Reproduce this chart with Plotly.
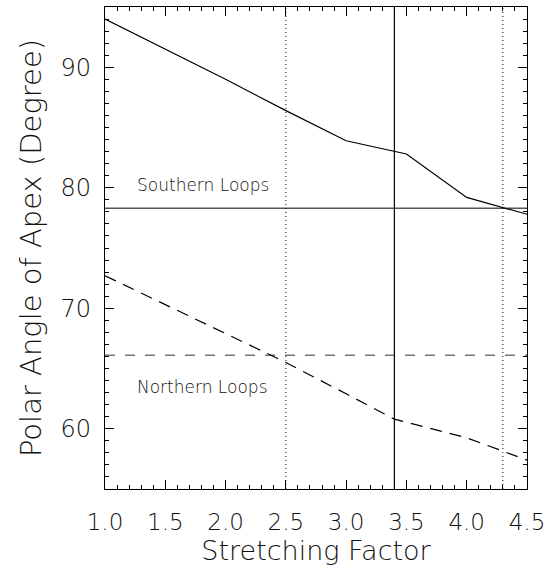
import plotly.graph_objects as go

# Data
south_x = [1.0, 1.5, 2.0, 2.5, 3.0, 3.5, 4.0, 4.5]
south_y = [94.0, 91.5, 89.0, 86.4, 83.9, 82.8, 79.2, 77.8]
north_x = [1.0, 1.5, 2.0, 2.5, 3.0, 3.4, 4.0, 4.5]
north_y = [72.7, 70.3, 67.9, 65.5, 62.9, 60.8, 59.25, 57.4]
south_mean = 78.3
north_mean = 66.1
vline_dotted = [2.5, 4.3]
vline_solid = 3.4
x_range = [1.0, 4.5]
y_range = [55, 95]
x_ticks = [1.0, 1.5, 2.0, 2.5, 3.0, 3.5, 4.0, 4.5]
x_ticklabels = ["1.0", "1.5", "2.0", "2.5", "3.0", "3.5", "4.0", "4.5"]
y_ticks = [60, 70, 80, 90]
y_ticklabels = ["60", "70", "80", "90"]

FONT = "DejaVu Sans"
TXT = "#111111"
W = 200

fig = go.Figure()

# reference lines
fig.add_trace(go.Scatter(x=x_range, y=[south_mean, south_mean], mode="lines",
                         line=dict(color="#555555", width=1.3), showlegend=False))
fig.add_trace(go.Scatter(x=x_range, y=[north_mean, north_mean], mode="lines",
                         line=dict(color="#777777", width=1.6, dash="10px,10px"), showlegend=False))
for xv in vline_dotted:
    fig.add_trace(go.Scatter(x=[xv, xv], y=y_range, mode="lines",
                             line=dict(color="black", width=1, dash="1px,3px"), showlegend=False))
fig.add_trace(go.Scatter(x=[vline_solid, vline_solid], y=y_range, mode="lines",
                         line=dict(color="black", width=1.2), showlegend=False))

# curves
fig.add_trace(go.Scatter(x=south_x, y=south_y, mode="lines",
                         line=dict(color="black", width=1.2), showlegend=False))
fig.add_trace(go.Scatter(x=north_x, y=north_y, mode="lines",
                         line=dict(color="black", width=1.2, dash="12px,8px"), showlegend=False))

# invisible trace to anchor mirror axes
fig.add_trace(go.Scatter(x=x_range, y=y_range, xaxis="x2", yaxis="y2", mode="lines",
                         line=dict(width=0), hoverinfo="skip", showlegend=False))

fig.add_annotation(x=1.25, y=80.2, text="Southern Loops", showarrow=False, xanchor="left",
                   yanchor="middle", font=dict(family=FONT, size=17, color=TXT, weight=W))
fig.add_annotation(x=1.25, y=63.5, text="Northern Loops", showarrow=False, xanchor="left",
                   yanchor="middle", font=dict(family=FONT, size=17, color=TXT, weight=W))

axis_common = dict(showline=True, linecolor="black", linewidth=1.3, mirror=True,
                   ticks="inside", tickcolor="black", showgrid=False, zeroline=False)

fig.update_layout(
    xaxis=dict(range=x_range, tickvals=x_ticks, ticktext=x_ticklabels, ticklen=9,
               tickwidth=1.2, ticklabelstandoff=12,
               minor=dict(dtick=0.1, tick0=1.0, ticklen=4, ticks="inside", tickcolor="black", showgrid=False),
               tickfont=dict(family=FONT, size=23, color=TXT, weight=W),
               title=dict(text="Stretching Factor", font=dict(family=FONT, size=27, color=TXT, weight=W), standoff=5),
               **axis_common),
    yaxis=dict(range=y_range, tickvals=y_ticks, ticktext=y_ticklabels, ticklen=9,
               tickwidth=1.2, ticklabelstandoff=8,
               minor=dict(dtick=1, tick0=55, ticklen=4, ticks="inside", tickcolor="black", showgrid=False),
               tickfont=dict(family=FONT, size=24, color=TXT, weight=W),
               title=dict(text="Polar Angle of Apex (Degree)", font=dict(family=FONT, size=29, color=TXT, weight=W), standoff=10),
               **axis_common),
    xaxis2=dict(range=x_range, overlaying="x", side="top", anchor="y2", tickvals=x_ticks,
                showticklabels=False, ticks="inside", ticklen=9, tickwidth=1.2, tickcolor="black",
                minor=dict(dtick=0.1, tick0=1.0, ticklen=4, ticks="inside", tickcolor="black", showgrid=False),
                showgrid=False, zeroline=False, showline=False),
    yaxis2=dict(range=y_range, overlaying="y", side="right", anchor="x2", tickvals=y_ticks,
                showticklabels=False, ticks="inside", ticklen=9, tickwidth=1.2, tickcolor="black",
                minor=dict(dtick=1, tick0=55, ticklen=4, ticks="inside", tickcolor="black", showgrid=False),
                showgrid=False, zeroline=False, showline=False),
    width=551, height=575, margin=dict(l=105, r=22, t=6, b=86),
    plot_bgcolor="white", paper_bgcolor="white")

fig.write_html("out.html")
